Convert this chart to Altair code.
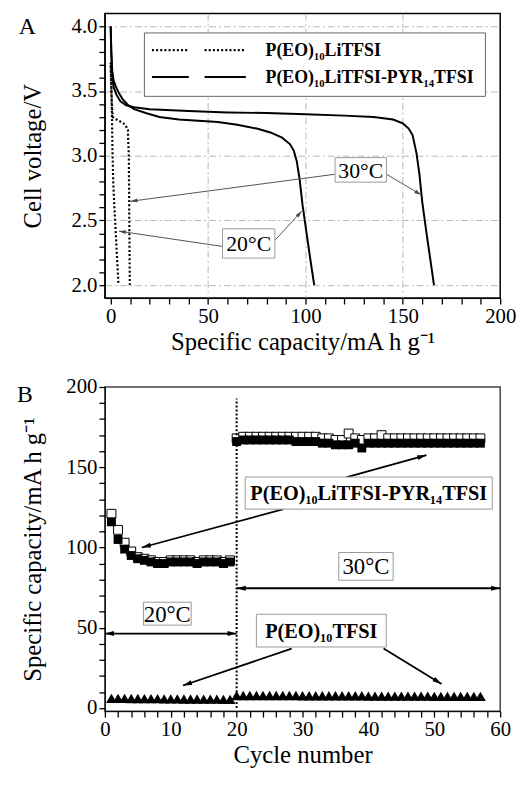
import math
import altair as alt
import pandas as pd

FONT = "Liberation Serif"

# ---------------- Panel A: discharge curves ----------------
capA_peo_20 = [0, 0.3, 0.6, 0.9, 1.3, 1.9, 2.6, 3.3, 4.0]
voltA_peo_20 = [3.7, 3.55, 3.35, 3.05, 2.8, 2.6, 2.4, 2.2, 2.0]
capA_peo_30 = [0, 0.3, 0.6, 1.0, 3.0, 5.5, 7.5, 8.8, 9.3, 9.5, 9.7, 9.8]
voltA_peo_30 = [3.72, 3.55, 3.4, 3.3, 3.28, 3.26, 3.24, 3.2, 3.0, 2.6, 2.2, 2.0]
capA_pyr_20 = [0, 0.3, 0.8, 1.5, 2.5, 4, 6, 9, 12, 18, 25, 35, 45, 55, 65, 75, 82, 88,
               92, 94, 95.5, 97, 98.5, 100.5, 102.5, 104.5]
voltA_pyr_20 = [4.0, 3.8, 3.65, 3.58, 3.54, 3.49, 3.44, 3.39, 3.36, 3.33, 3.30, 3.28, 3.27,
                3.26, 3.24, 3.21, 3.18, 3.14, 3.09, 3.04, 2.96, 2.82, 2.62, 2.41, 2.2, 2.0]
capA_pyr_30 = [0, 0.3, 0.8, 1.5, 3, 5, 8, 12, 20, 40, 60, 80, 100, 120, 135, 145, 150, 153,
               155, 157, 158.5, 160, 162, 164, 166]
voltA_pyr_30 = [4.0, 3.8, 3.62, 3.53, 3.47, 3.42, 3.39, 3.375, 3.36, 3.345, 3.335, 3.33, 3.32,
                3.31, 3.30, 3.28, 3.25, 3.21, 3.16, 3.02, 2.86, 2.64, 2.42, 2.21, 2.0]

# legend & annotations of panel A (data coordinates)
legA_labels = ["P(EO)₁₀LiTFSI", "P(EO)₁₀LiTFSI-PYR₁₄TFSI"]
legA_row_v = [3.816, 3.608]
legA_seg_x0 = [21.2, 48.2]
legA_seg_x1 = [40.1, 69.4]
legA_box = [17.3, 192.4, 3.459, 3.949]
legA_text_x = 79.5

tempA_labels = ["30°C", "20°C"]
tempA_x0 = [115.2, 57.4]
tempA_x1 = [141.6, 84.3]
tempA_y0 = [2.796, 2.209]
tempA_y1 = [2.985, 2.435]

arrA_x0 = [115.2, 141.6, 57.4, 84.3]
arrA_y0 = [2.857, 2.857, 2.299, 2.346]
arrA_x1 = [10.2, 159.4, 4.2, 98.1]
arrA_y1 = [2.648, 2.698, 2.417, 2.572]

# ---------------- Panel B: cycling ----------------
cyc_20 = list(range(1, 20))
sq_fill_20 = [116, 105, 99, 95, 93, 92, 91, 90, 90, 91, 91, 91, 91, 90, 91, 91, 91, 90, 91]
sq_open_20 = [121, 111, 103, 97.5, 94, 93, 92, 91, 91, 92, 92, 92, 92, 91, 92, 92, 92, 91, 92]
tri_20 = [6.0, 6.0, 6.0, 5.9, 5.9, 5.8, 5.8, 5.8, 5.7, 5.7, 5.7, 5.6, 5.6, 5.6, 5.5, 5.5, 5.5, 5.4, 5.4]

cyc_30 = list(range(20, 58))
sq_fill_30 = [166, 167, 167, 167, 167, 167, 167, 167, 167, 166, 166, 166, 166, 165, 165, 164,
              164, 164, 165, 162, 165, 165, 165, 165, 165, 165, 165, 165, 165, 165, 165, 165,
              165, 165, 165, 165, 165, 165]
sq_open_30 = [168, 169, 169, 169, 169, 169, 169, 169, 169, 169, 169, 169, 169, 168, 168, 167,
              167, 171, 168, 167, 168, 168, 170, 168, 168, 168, 168, 168, 168, 168, 168, 168,
              168, 168, 168, 168, 168, 168]
tri_30 = [7.8] * 10 + [7.6] * 10 + [7.4] * 10 + [7.2] * 8

boxB_labels = ["P(EO)₁₀LiTFSI-PYR₁₄TFSI", "30°C", "20°C", "P(EO)₁₀TFSI"]
boxB_bold = [True, False, False, True]
boxB_x0 = [21.3, 35.5, 5.85, 23.0]
boxB_x1 = [58.8, 43.75, 13.1, 42.7]
boxB_y0 = [123.9, 79.6, 51.6, 38.0]
boxB_y1 = [143.9, 96.9, 65.9, 58.4]

arrB_x0 = [36.6, 27.1, 28.35, 42.3]
arrB_y0 = [143.7, 123.9, 37.0, 37.0]
arrB_x1 = [48.8, 5.6, 11.85, 51.1]
arrB_y1 = [157.5, 100.0, 14.0, 15.0]

dblB_x0 = [20, 0]
dblB_x1 = [60, 20]
dblB_y = [74.6, 46.4]

switch_cycle = 20
switch_top = 192.9

# ---------------- geometry helpers ----------------
WA, HA = 400, 288
XA_DOM, YA_DOM = [-3, 200], [1.9, 4.1]
WB, HB = 400, 328
XB_DOM, YB_DOM = [0, 60], [-2, 200]
kxA = WA / (XA_DOM[1] - XA_DOM[0]); kyA = HA / (YA_DOM[1] - YA_DOM[0])
kxB = WB / (XB_DOM[1] - XB_DOM[0]); kyB = HB / (YB_DOM[1] - YB_DOM[0])

HEAD = "M0,0L-0.6,2.2L0.6,2.2Z"


def head_angle(x0, y0, x1, y1, kx, ky):
    dx = (x1 - x0) * kx
    dy = -(y1 - y0) * ky
    return math.degrees(math.atan2(dx, -dy)) % 360


def line_df(pairs):
    rows = []
    for name, xs, ys in pairs:
        for i, (a, b) in enumerate(zip(xs, ys)):
            rows.append({"s": name, "i": i, "x": a, "y": b})
    return pd.DataFrame(rows)


def ax(values, major, fmt, title, grid_test=None, title_pad=3):
    kw = dict(values=values, tickCount=len(values) + 5, title=title, format=fmt,
              labelExpr=f"({major}) ? datum.label : ''",
              labelOverlap=False, labelFlush=False,
              ticks=True, tickSize=6, tickColor="black", tickWidth=1.3, tickOpacity=1,
              domainColor="black", domainWidth=1,
              labelFont=FONT, labelFontSize=21, labelColor="black", labelPadding=2,
              titleFont=FONT, titleFontSize=25, titleFontWeight="normal", titleColor="black",
              titlePadding=title_pad)
    if grid_test:
        kw.update(grid=True, gridColor="#b8b8b8", gridWidth=1, gridDash=[7, 3, 2, 3],
                  gridOpacity={"condition": {"test": grid_test, "value": 1}, "value": 0})
    else:
        kw.update(grid=False)
    return alt.Axis(**kw)


xsA = alt.Scale(domain=XA_DOM, nice=False, zero=False)
ysA = alt.Scale(domain=YA_DOM, nice=False, zero=False)
xsB = alt.Scale(domain=XB_DOM, nice=False, zero=False)
ysB = alt.Scale(domain=YB_DOM, nice=False, zero=False)


def XA(f):
    return alt.X(f, type="quantitative", scale=xsA)


def YA(f):
    return alt.Y(f, type="quantitative", scale=ysA)


def XB(f):
    return alt.X(f, type="quantitative", scale=xsB)


def YB(f):
    return alt.Y(f, type="quantitative", scale=ysB)


# ---------------- Panel A ----------------
xA_major = "datum.value % 50 === 0"
yA_major = "abs(datum.value * 2 - round(datum.value * 2)) < 0.01"
xA_vals = list(range(0, 201, 10))
yA_vals = [round(2.0 + 0.1 * i, 1) for i in range(21)]

solidA = line_df([("20", capA_pyr_20, voltA_pyr_20), ("30", capA_pyr_30, voltA_pyr_30)])
dotA = line_df([("20", capA_peo_20, voltA_peo_20), ("30", capA_peo_30, voltA_peo_30)])

curvesA = alt.Chart(solidA).mark_line(color="black", strokeWidth=2).encode(
    x=alt.X("x:Q", scale=xsA, axis=ax(xA_vals, xA_major, "d", "Specific capacity/mA h g⁻¹",
                                      grid_test=xA_major + " && datum.value > 0 && datum.value < 200")),
    y=alt.Y("y:Q", scale=ysA, axis=ax(yA_vals, yA_major, ".1f", "Cell voltage/V",
                                      grid_test=yA_major, title_pad=26)),
    detail="s:N", order="i:Q")

dotsA = alt.Chart(dotA).mark_line(color="black", strokeWidth=2.2, strokeDash=[2, 2.2]).encode(
    x=XA("x"), y=YA("y"), detail="s:N", order="i:Q")

arrA = pd.DataFrame({"x0": arrA_x0, "y0": arrA_y0, "x1": arrA_x1, "y1": arrA_y1})
arrA["ang"] = [head_angle(a, b, c, d, kxA, kyA) for a, b, c, d in zip(arrA_x0, arrA_y0, arrA_x1, arrA_y1)]
arrowsA = alt.Chart(arrA).mark_rule(color="#555", strokeWidth=1).encode(
    x=XA("x0"), y=YA("y0"), x2="x1:Q", y2="y1:Q")
headsA = alt.Chart(arrA).mark_point(shape=HEAD, filled=True, color="#444", size=40, opacity=1).encode(
    x=XA("x1"), y=YA("y1"), angle=alt.Angle("ang:Q", scale=None))

tA = pd.DataFrame({"label": tempA_labels, "x0": tempA_x0, "x1": tempA_x1, "y0": tempA_y0, "y1": tempA_y1})
tA["xc"] = (tA.x0 + tA.x1) / 2
tA["yc"] = (tA.y0 + tA.y1) / 2
boxesA = alt.Chart(tA).mark_rect(fill="white", stroke="#999", strokeWidth=1).encode(
    x=XA("x0"), x2="x1:Q", y=YA("y0"), y2="y1:Q")
textA = alt.Chart(tA).mark_text(font=FONT, fontSize=22, color="black", dy=1).encode(
    x=XA("xc"), y=YA("yc"), text="label:N")

legbox = pd.DataFrame({"x0": [legA_box[0]], "x1": [legA_box[1]], "y0": [legA_box[2]], "y1": [legA_box[3]]})
legBoxA = alt.Chart(legbox).mark_rect(fill="white", stroke="#666", strokeWidth=1).encode(
    x=XA("x0"), x2="x1:Q", y=YA("y0"), y2="y1:Q")
segs = []
for r, style in zip(legA_row_v, ["dot", "solid"]):
    for a, b in zip(legA_seg_x0, legA_seg_x1):
        segs.append({"x0": a, "x1": b, "y": r, "style": style})
segs = pd.DataFrame(segs)
legSolid = alt.Chart(segs[segs["style"] == "solid"]).mark_rule(color="black", strokeWidth=2).encode(
    x=XA("x0"), x2="x1:Q", y=YA("y"))
legDot = alt.Chart(segs[segs["style"] == "dot"]).mark_rule(color="black", strokeWidth=2.2,
                                                          strokeDash=[2, 2.2]).encode(
    x=XA("x0"), x2="x1:Q", y=YA("y"))
legText = alt.Chart(pd.DataFrame({"label": legA_labels, "y": legA_row_v, "x": [legA_text_x] * 2})).mark_text(
    font=FONT, fontSize=18, fontWeight="bold", color="black", align="left", dy=1).encode(
    x=XA("x"), y=YA("y"), text="label:N")

letterA = alt.Chart(pd.DataFrame({"t": ["A"]})).mark_text(
    font=FONT, fontSize=24, color="black", align="left").encode(
    x=alt.value(-87), y=alt.value(14), text="t:N")

panelA = alt.layer(curvesA, dotsA, arrowsA, headsA, boxesA, textA, legBoxA, legSolid, legDot,
                   legText, letterA).properties(
    width=WA, height=HA, view=alt.ViewBackground(stroke="black", strokeWidth=1.5))

# ---------------- Panel B ----------------
xB_major = "datum.value % 10 === 0"
yB_major = "datum.value % 50 === 0"
xB_vals = list(range(0, 61, 2))
yB_vals = list(range(0, 201, 10))

sqB = pd.DataFrame({
    "c": cyc_20 + cyc_30,
    "fill": sq_fill_20 + sq_fill_30,
    "open": sq_open_20 + sq_open_30,
    "tri": tri_20 + tri_30,
})

openSq = alt.Chart(sqB).mark_point(shape="square", filled=True, fill="white", stroke="black",
                                   strokeWidth=1, size=81, opacity=1).encode(
    x=alt.X("c:Q", scale=xsB, axis=ax(xB_vals, xB_major, "d", "Cycle number")),
    y=alt.Y("open:Q", scale=ysB, axis=ax(yB_vals, yB_major, "d", "Specific capacity/mA h g⁻¹",
                                         title_pad=21)))
fillSq = alt.Chart(sqB).mark_point(shape="square", filled=True, color="black", size=81, opacity=1).encode(
    x=XB("c"), y=YB("fill"))
triB = alt.Chart(sqB).mark_point(shape="triangle-up", filled=True, color="black", size=120, opacity=1).encode(
    x=XB("c"), y=YB("tri"))

vline = alt.Chart(pd.DataFrame({"x": [switch_cycle], "y0": [0], "y1": [switch_top]})).mark_rule(
    color="black", strokeWidth=2, strokeDash=[2, 2]).encode(
    x=XB("x"), y=YB("y0"), y2="y1:Q")

arrB = pd.DataFrame({"x0": arrB_x0, "y0": arrB_y0, "x1": arrB_x1, "y1": arrB_y1})
dbl = pd.DataFrame({"x0": dblB_x0, "x1": dblB_x1, "y0": dblB_y, "y1": dblB_y})
allRules = pd.concat([arrB, dbl], ignore_index=True)
rulesB = alt.Chart(allRules).mark_rule(color="black", strokeWidth=1.8).encode(
    x=XB("x0"), y=YB("y0"), x2="x1:Q", y2="y1:Q")
heads = []
for a, b, c, d in zip(arrB_x0, arrB_y0, arrB_x1, arrB_y1):
    heads.append({"x": c, "y": d, "ang": head_angle(a, b, c, d, kxB, kyB)})
for a, c, yy in zip(dblB_x0, dblB_x1, dblB_y):
    heads.append({"x": c, "y": yy, "ang": head_angle(a, yy, c, yy, kxB, kyB)})
    heads.append({"x": a, "y": yy, "ang": head_angle(c, yy, a, yy, kxB, kyB)})
headsB = alt.Chart(pd.DataFrame(heads)).mark_point(shape=HEAD, filled=True, color="black",
                                                   size=70, opacity=1).encode(
    x=XB("x"), y=YB("y"), angle=alt.Angle("ang:Q", scale=None))

bB = pd.DataFrame({"label": boxB_labels, "bold": boxB_bold, "x0": boxB_x0, "x1": boxB_x1,
                   "y0": boxB_y0, "y1": boxB_y1})
bB["xc"] = (bB.x0 + bB.x1) / 2
bB["yc"] = (bB.y0 + bB.y1) / 2
boxesB = alt.Chart(bB).mark_rect(fill="white", stroke="#999", strokeWidth=1).encode(
    x=XB("x0"), x2="x1:Q", y=YB("y0"), y2="y1:Q")
textBb = alt.Chart(bB[bB["bold"]]).mark_text(font=FONT, fontSize=20.5, fontWeight="bold",
                                            color="black", dy=1).encode(
    x=XB("xc"), y=YB("yc"), text="label:N")
textBn = alt.Chart(bB[~bB["bold"]]).mark_text(font=FONT, fontSize=23, color="black", dy=1).encode(
    x=XB("xc"), y=YB("yc"), text="label:N")

letterB = alt.Chart(pd.DataFrame({"t": ["B"]})).mark_text(
    font=FONT, fontSize=24, color="black", align="left").encode(
    x=alt.value(-89), y=alt.value(8), text="t:N")

panelB = alt.layer(openSq, vline, fillSq, triB, rulesB, headsB, boxesB, textBb, textBn,
                   letterB).properties(
    width=WB, height=HB, view=alt.ViewBackground(stroke="#444", strokeWidth=1.5))

chart = alt.vconcat(panelA, panelB, spacing=20).properties(
    padding={"left": 8, "top": 0, "right": 0, "bottom": -5},
    background="white",
).configure_view(stroke="black")

chart.save("out.html", embed_options={"renderer": "svg", "actions": False})
